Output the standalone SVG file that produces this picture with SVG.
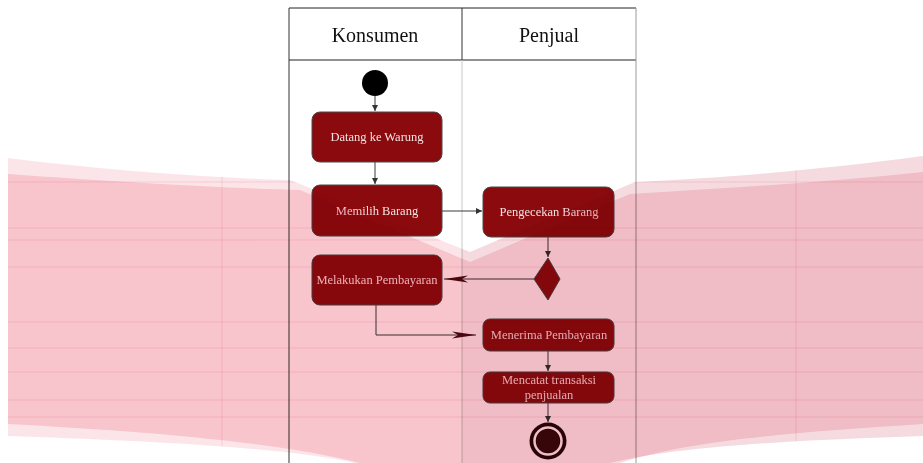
<svg xmlns="http://www.w3.org/2000/svg" width="923" height="463" viewBox="0 0 923 463">
<style>
.hdr{font-family:"Liberation Serif","Times New Roman",serif;font-size:20px;fill:#111;text-anchor:middle}
.lbl{font-family:"Liberation Serif","Times New Roman",serif;font-size:12.5px;fill:#f3e3e3;text-anchor:middle}
.act{fill:#8b0a0e;stroke:#4a4a4a;stroke-width:1}
.conn{fill:none;stroke:#3a3a3a;stroke-width:1}
.grid{stroke:#d9506a;stroke-width:1;opacity:0.18}
</style>
<defs>
<marker id="tri" viewBox="0 0 8 8" refX="8" refY="4" markerWidth="6" markerHeight="6" orient="auto" markerUnits="userSpaceOnUse">
<path d="M0,0 L8,4 L0,8 Z" fill="#333"/>
</marker>
<marker id="dart" viewBox="0 0 24 8" refX="24" refY="4" markerWidth="24" markerHeight="8" orient="auto" markerUnits="userSpaceOnUse">
<path d="M0,0.5 L24,4 L0,7.5 L6,4 Z" fill="#4a0a10"/>
</marker>
<clipPath id="bandClip">
<path d="M8,158 C120,172 220,178 290,180 L470,252 L635,182 C720,178 820,170 923,156 L923,436 C800,440 680,446 610,463 L355,463 C280,446 120,440 8,436 Z"/>
</clipPath>
</defs>
<rect width="923" height="463" fill="#ffffff"/>
<g id="swimlanes">
<line x1="289" y1="8" x2="636" y2="8" stroke="#222" stroke-width="1"/>
<line x1="289" y1="60" x2="636" y2="60" stroke="#222" stroke-width="1"/>
<line x1="289" y1="8" x2="289" y2="463" stroke="#333" stroke-width="1"/>
<line x1="462" y1="8" x2="462" y2="60" stroke="#333" stroke-width="1"/>
<line x1="462" y1="60" x2="462" y2="463" stroke="#c8c8c8" stroke-width="1"/>
<line x1="636" y1="8" x2="636" y2="463" stroke="#9a9a9a" stroke-width="1"/>
<text class="hdr" x="375" y="42">Konsumen</text>
<text class="hdr" x="549" y="42">Penjual</text>
</g>
<g id="connectors">
<line class="conn" x1="375" y1="96" x2="375" y2="111" marker-end="url(#tri)"/>
<line class="conn" x1="375" y1="162" x2="375" y2="184" marker-end="url(#tri)"/>
<line class="conn" x1="442" y1="211" x2="482" y2="211" marker-end="url(#tri)"/>
<line class="conn" x1="548" y1="237" x2="548" y2="257" marker-end="url(#tri)"/>
<line class="conn" x1="534" y1="279" x2="444" y2="279" marker-end="url(#dart)"/>
<polyline class="conn" points="376,305 376,335 476,335" marker-end="url(#dart)"/>
<line class="conn" x1="548" y1="351" x2="548" y2="371" marker-end="url(#tri)"/>
<line class="conn" x1="548" y1="403" x2="548" y2="422" marker-end="url(#tri)"/>
</g>
<g id="start"><circle cx="375" cy="83" r="13" fill="#000"/></g>
<g id="datang"><rect class="act" x="312" y="112" width="130" height="50" rx="8"/><text class="lbl" x="377" y="141">Datang ke Warung</text></g>
<g id="memilih"><rect class="act" x="312" y="185" width="130" height="51" rx="8"/><text class="lbl" x="377" y="215">Memilih Barang</text></g>
<g id="pengecekan"><rect class="act" x="483" y="187" width="131" height="50" rx="8"/><text class="lbl" x="549" y="216">Pengecekan Barang</text></g>
<g id="decision"><polygon points="548,258 560,279 548,300 534,279" fill="#8b0a0e" stroke="#4a4a4a" stroke-width="1"/></g>
<g id="melakukan"><rect class="act" x="312" y="255" width="130" height="50" rx="8"/><text class="lbl" x="377" y="284">Melakukan Pembayaran</text></g>
<g id="menerima"><rect class="act" x="483" y="319" width="131" height="32" rx="7"/><text class="lbl" x="549" y="339">Menerima Pembayaran</text></g>
<g id="mencatat"><rect class="act" x="483" y="372" width="131" height="31" rx="7"/><text class="lbl" x="549" y="384">Mencatat transaksi</text><text class="lbl" x="549" y="399">penjualan</text></g>
<g id="end"><circle cx="548" cy="441" r="18.5" fill="#2a0507"/><circle cx="548" cy="441" r="13.5" fill="none" stroke="#fff" stroke-width="2.5"/><circle cx="548" cy="441" r="11.5" fill="#3a080b"/></g>
<g id="watermark" style="mix-blend-mode:multiply">
<path d="M8,158 C120,172 220,178 290,180 L470,252 L635,182 C720,178 820,170 923,156 L923,436 C800,440 680,446 610,463 L355,463 C280,446 120,440 8,436 Z" fill="#ea4a62" opacity="0.14"/>
<path d="M8,174 C120,182 220,188 300,190 L470,262 L630,194 C730,188 830,182 923,172 L923,424 C800,432 690,440 620,463 L360,463 C270,440 120,430 8,424 Z" fill="#e8405a" opacity="0.2"/>
<rect x="462" y="150" width="461" height="313" fill="#7a3a40" opacity="0.06" clip-path="url(#bandClip)"/>
<g clip-path="url(#bandClip)">
<line class="grid" x1="0" y1="182" x2="923" y2="182"/>
<line class="grid" x1="0" y1="228" x2="923" y2="228"/>
<line class="grid" x1="0" y1="240" x2="923" y2="240"/>
<line class="grid" x1="0" y1="267" x2="923" y2="267"/>
<line class="grid" x1="0" y1="322" x2="923" y2="322"/>
<line class="grid" x1="0" y1="348" x2="923" y2="348"/>
<line class="grid" x1="0" y1="372" x2="923" y2="372"/>
<line class="grid" x1="0" y1="400" x2="923" y2="400"/>
<line class="grid" x1="0" y1="417" x2="923" y2="417"/>
<line class="grid" x1="222" y1="150" x2="222" y2="463"/>
<line class="grid" x1="796" y1="150" x2="796" y2="463"/>
</g>
</g>
</svg>
